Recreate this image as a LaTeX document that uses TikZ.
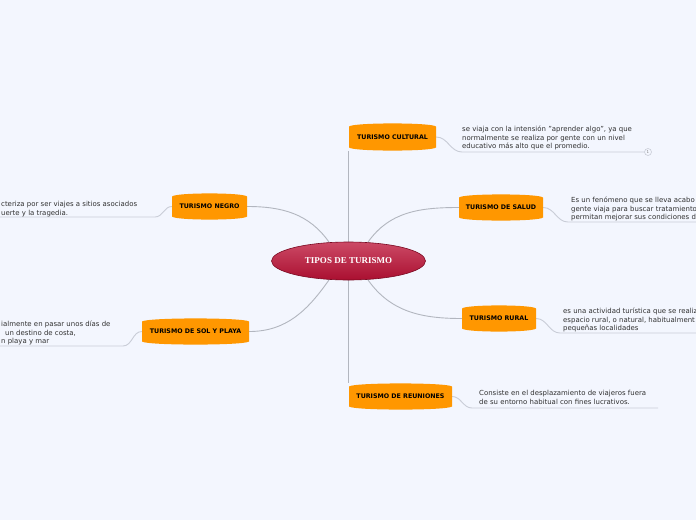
\documentclass[tikz,border=0pt]{standalone}
\usepackage{fontspec}
\setmainfont{DejaVu Sans}
\newfontfamily\serifb{Liberation Serif}
\usetikzlibrary{shapes.geometric,backgrounds}
\definecolor{bg}{HTML}{F3F6FE}
\definecolor{tor}{HTML}{FF9700}
\definecolor{conn}{HTML}{B2B6BF}
\definecolor{uline}{HTML}{C9CDD7}
\definecolor{txt}{HTML}{303030}
\definecolor{ctop}{HTML}{CC4A66}
\definecolor{cbot}{HTML}{AA0F30}
\definecolor{cbrd}{HTML}{7A0A22}
\tikzset{
  topic/.style={font=\fontsize{6.3}{7}\selectfont\bfseries, text=black, inner sep=0pt},
  note/.style={font=\fontsize{6.95}{8.6}\selectfont, text=txt, align=left, inner sep=0pt},
  link/.style={draw=conn, line width=0.9pt},
  under/.style={draw=uline, line width=0.9pt},
}
% name, cx, cy, half width, half height, text
\newcommand\topicnode[6]{%
  \fill[tor] (#2-#4,#3+#5-3.5) -- (#2-#4,#3-#5+3.5)
    .. controls (#2-#4+0.1*#4,#3-#5-0.6) and (#2+#4-0.1*#4,#3-#5-0.6) .. (#2+#4,#3-#5+3.5)
    -- (#2+#4,#3+#5-3.5)
    .. controls (#2+#4-0.1*#4,#3+#5+0.6) and (#2-#4+0.1*#4,#3+#5+0.6) .. cycle;
  \node[topic, minimum width={2*#4pt}, minimum height={2*#5pt}] (#1) at (#2,#3) {#6};
}
\begin{document}
\begin{tikzpicture}[x=1pt,y=-1pt]
\useasboundingbox (0,0) rectangle (696,520);
\begin{pgfonlayer}{background}
\fill[bg] (0,0) rectangle (696,520);
\end{pgfonlayer}

\node[ellipse, minimum width=154pt, minimum height=38pt, inner sep=0pt,
      top color=ctop, bottom color=cbot, draw=cbrd, line width=0.6pt,
      text=white, font=\serifb\bfseries\fontsize{9}{10}\selectfont] (c) at (348.5,261) {TIPOS DE TURISMO};

\topicnode{cult}{392.5}{137}{43.5}{14}{TURISMO CULTURAL}
\topicnode{neg}{209.5}{206.5}{37.5}{13.5}{TURISMO NEGRO}
\topicnode{sal}{501}{207.5}{42}{13.5}{TURISMO DE SALUD}
\topicnode{sol}{195.5}{331.5}{53.5}{13.5}{TURISMO DE SOL Y PLAYA}
\topicnode{rur}{499}{318.5}{37}{13.5}{TURISMO RURAL}
\topicnode{reu}{400.5}{396.5}{51.5}{13.5}{TURISMO DE REUNIONES}

% notes
\node[note, anchor=north west] (culT) at (462,126) {se viaja con la intensión "aprender algo", ya que\\normalmente se realiza por gente con un nivel\\educativo más alto que el promedio.};
\node[note, anchor=north west] (negT) at (1,201) {cteriza por ser viajes a sitios asociados\\uerte y la tragedia.};
\node[note, anchor=north west] (salT) at (571,197) {Es un fenómeno que se lleva acabo\\gente viaja para buscar tratamiento\\permitan mejorar sus condiciones d};
\node[note, anchor=north west] (solT) at (1,321) {ialmente en pasar unos días de\\\hspace*{4pt}un destino de costa,\\n playa y mar};
\node[note, anchor=north west] (rurT) at (563,308) {es una actividad turística que se realiz\\espacio rural, o natural, habitualment\\pequeñas localidades};
\node[note, anchor=north west] (reuT) at (479,390.5) {Consiste en el desplazamiento de viajeros fuera\\de su entorno habitual con fines lucrativos.};

\node[circle, draw=uline, line width=0.6pt, inner sep=0pt, minimum size=7pt,
      font=\fontsize{4}{4}\selectfont, text=gray] (cnt) at (648,152) {1};

\coordinate (culU) at (462,152);
\coordinate (negU) at (155,217);
\coordinate (negE) at (0,217);
\coordinate (salU) at (568,222);
\coordinate (salE) at (696,222);
\coordinate (solU) at (123,346);
\coordinate (solE) at (0,346);
\coordinate (rurU) at (560,333);
\coordinate (rurE) at (696,333);
\coordinate (reuU) at (472,408);
\coordinate (reuE) at (658,408);

\begin{pgfonlayer}{background}
\draw[link] (c.north -| cult.south west) -- (cult.south west);
\draw[link] (c.south -| reu.north west) -- (reu.north west);
\draw[link] (c.136) to[out=125,in=0] (neg.east);
\draw[link] (c.44) to[out=55,in=180] (sal.west);
\draw[link] (c.224) to[out=235,in=0] (sol.east);
\draw[link] (c.316) to[out=-55,in=180] (rur.west);

\draw[under] (cult.east) to[out=0,in=180] (culU) -- (cnt.west);
\draw[under] (neg.west) to[out=180,in=0] (negU) -- (negE);
\draw[under] (sal.east) to[out=0,in=180] (salU) -- (salE);
\draw[under] (sol.west) to[out=180,in=0] (solU) -- (solE);
\draw[under] (rur.east) to[out=0,in=180] (rurU) -- (rurE);
\draw[under] (reu.east) to[out=0,in=180] (reuU) -- (reuE);
\end{pgfonlayer}
\end{tikzpicture}
\end{document}
